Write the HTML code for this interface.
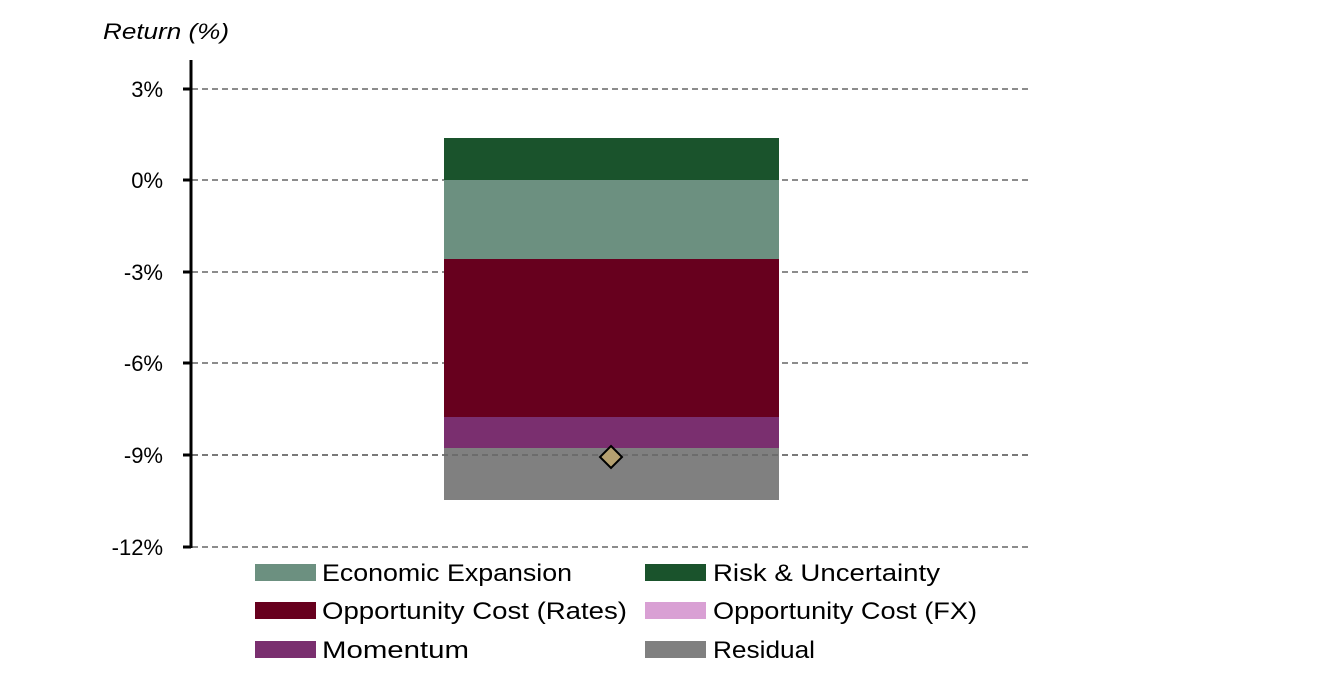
<!DOCTYPE html>
<html><head><meta charset="utf-8"><style>
body{margin:0;background:#fff;}
svg text{font-family:"Liberation Sans",sans-serif;}
</style></head><body>
<svg width="1319" height="672" xmlns="http://www.w3.org/2000/svg">
<rect width="1319" height="672" fill="#fff"/>
<text x="103" y="39" font-size="22" font-style="italic" fill="#000" textLength="126" lengthAdjust="spacingAndGlyphs">Return (%)</text>
<g stroke="#666" stroke-width="1.5" stroke-dasharray="6,4">
<line x1="192" y1="89" x2="1030" y2="89"/>
<line x1="192" y1="180" x2="1030" y2="180"/>
<line x1="192" y1="272" x2="1030" y2="272"/>
<line x1="192" y1="363" x2="1030" y2="363"/>
<line x1="192" y1="455" x2="1030" y2="455"/>
<line x1="192" y1="547" x2="1030" y2="547"/>
</g>
<rect x="444" y="138" width="335" height="42" fill="#1a532c"/>
<rect x="444" y="180" width="335" height="79" fill="#6c9080"/>
<rect x="444" y="259" width="335" height="158" fill="#67001e"/>
<rect x="444" y="417" width="335" height="31" fill="#7a2f6f"/>
<rect x="444" y="448" width="335" height="52" fill="#808080"/>
<line x1="192" y1="455" x2="1030" y2="455" stroke="#666" stroke-width="1.5" stroke-dasharray="6,4"/>
<polygon points="611,446 622,457 611,468 600,457" fill="#b5a070" stroke="#000" stroke-width="2"/>
<g stroke="#000" stroke-width="3">
<line x1="191" y1="60" x2="191" y2="548"/>
<line x1="183" y1="89" x2="191" y2="89"/>
<line x1="183" y1="180" x2="191" y2="180"/>
<line x1="183" y1="272" x2="191" y2="272"/>
<line x1="183" y1="363" x2="191" y2="363"/>
<line x1="183" y1="455" x2="191" y2="455"/>
<line x1="183" y1="547" x2="191" y2="547"/>
</g>
<g font-size="22" text-anchor="end" fill="#000">
<text x="163" y="97">3%</text>
<text x="163" y="188">0%</text>
<text x="163" y="280">-3%</text>
<text x="163" y="371">-6%</text>
<text x="163" y="463">-9%</text>
<text x="163" y="555">-12%</text>
</g>
<g font-size="24" fill="#000">
<rect x="255" y="564" width="61" height="17" fill="#6c9080"/><text x="322" y="581" textLength="250" lengthAdjust="spacingAndGlyphs">Economic Expansion</text>
<rect x="645" y="564" width="61" height="17" fill="#1a532c"/><text x="713" y="581" textLength="227" lengthAdjust="spacingAndGlyphs">Risk &amp; Uncertainty</text>
<rect x="255" y="602" width="61" height="17" fill="#67001e"/><text x="322" y="619" textLength="305" lengthAdjust="spacingAndGlyphs">Opportunity Cost (Rates)</text>
<rect x="645" y="602" width="61" height="17" fill="#d9a0d4"/><text x="713" y="619" textLength="264" lengthAdjust="spacingAndGlyphs">Opportunity Cost (FX)</text>
<rect x="255" y="641" width="61" height="17" fill="#7a2f6f"/><text x="322" y="658" textLength="147" lengthAdjust="spacingAndGlyphs">Momentum</text>
<rect x="645" y="641" width="61" height="17" fill="#808080"/><text x="713" y="658" textLength="102" lengthAdjust="spacingAndGlyphs">Residual</text>
</g>
</svg>
</body></html>
